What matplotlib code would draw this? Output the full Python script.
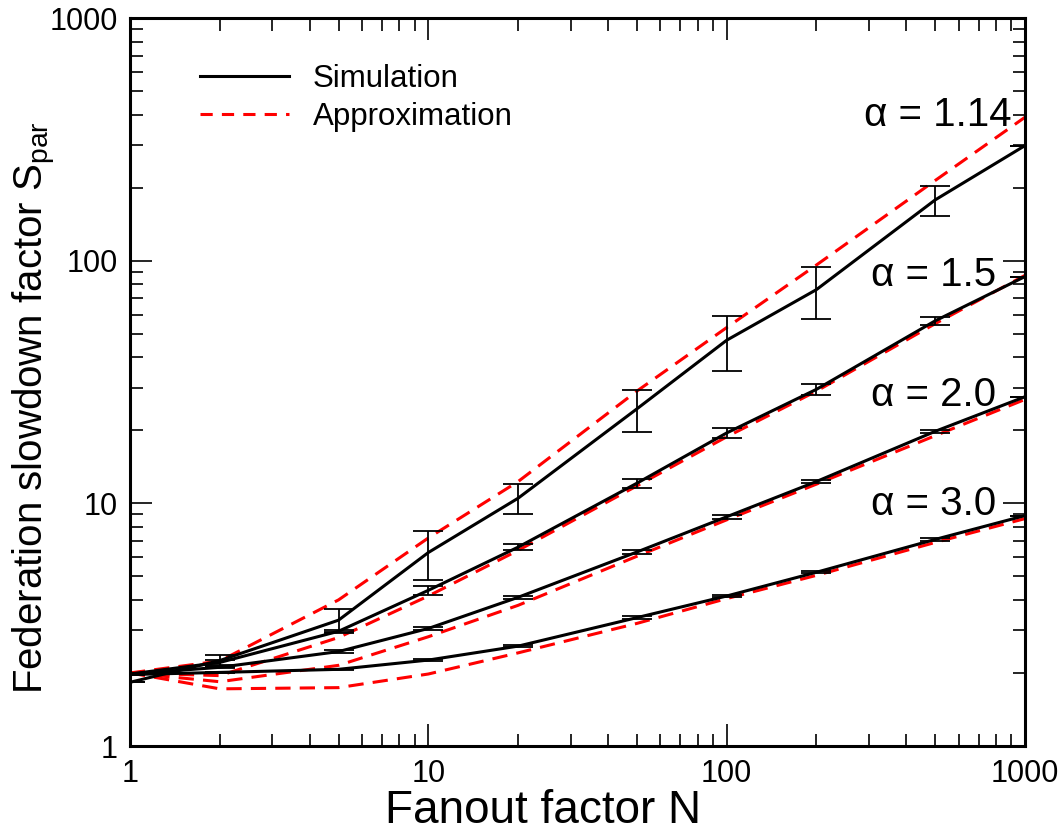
'''
Federation slowdown factor vs fanout factor, simulation vs approximation
'''
import matplotlib
matplotlib.use('Agg')
import matplotlib.pyplot as plt
from matplotlib.lines import Line2D
from matplotlib.ticker import LogLocator, NullFormatter, FixedLocator, FixedFormatter

plt.rcParams['font.family'] = ['Liberation Sans', 'DejaVu Sans']
plt.rcParams['mathtext.fontset'] = 'custom'
plt.rcParams['mathtext.rm'] = 'Liberation Sans'

# Fanout factor N
N = [1, 2, 5, 10, 20, 50, 100, 200, 500, 1000]

# simulation (black) with error bars
sim_114 = [1.83, 2.25, 3.3, 6.27, 10.5, 24.5, 47, 76, 178, 298]
err_114 = [0, 0.13, 0.36, 1.43, 1.47, 4.8, 12, 18.5, 25.5, 0]
sim_15 = [1.98, 2.21, 2.97, 4.38, 6.6, 12.1, 19.5, 29.5, 56.5, 86]
err_15 = [0, 0.05, 0.04, 0.2, 0.2, 0.55, 1.0, 1.5, 2.3, 0]
sim_20 = [1.98, 2.11, 2.45, 3.05, 4.1, 6.3, 8.8, 12.3, 19.8, 27.5]
err_20 = [0, 0.02, 0.03, 0.04, 0.06, 0.1, 0.15, 0.2, 0.3, 0]
sim_30 = [1.97, 2.01, 2.07, 2.26, 2.58, 3.38, 4.15, 5.2, 7.1, 8.9]
err_30 = [0, 0.01, 0.01, 0.02, 0.03, 0.04, 0.05, 0.06, 0.08, 0]

# approximation (red dashed)
apx_114 = [2.0, 2.24, 4.0, 7.2, 12.3, 29, 53, 96, 214, 390]
apx_15 = [2.0, 1.95, 2.8, 4.15, 6.4, 11.8, 18.8, 29, 55, 87]
apx_20 = [2.0, 1.84, 2.15, 2.82, 3.8, 6.05, 8.55, 12.0, 19.0, 26.8]
apx_30 = [2.0, 1.72, 1.74, 1.98, 2.42, 3.2, 4.05, 5.05, 6.9, 8.65]

alpha_labels = ['α = 1.14', 'α = 1.5', 'α = 2.0', 'α = 3.0']
label_pos = [(900, 400), (800, 87), (800, 28), (800, 9.9)]

sims = [(sim_114, err_114), (sim_15, err_15), (sim_20, err_20), (sim_30, err_30)]
apxs = [apx_114, apx_15, apx_20, apx_30]

fig = plt.figure(figsize=(10.64, 8.31), dpi=100)
ax = fig.add_axes([130/1064, 85/831, 895/1064, 728/831])

for s, e in sims:
    ax.errorbar(N, s, yerr=e, color='black', lw=2.2, elinewidth=1.3, capsize=11,
                capthick=1.3, zorder=3)
for a in apxs:
    ax.plot(N, a, color='red', lw=2.2, dashes=(5, 3), zorder=2)

for txt, (x, y) in zip(alpha_labels, label_pos):
    ax.text(x, y, txt, fontsize=29, ha='right', va='center')

ax.set_xscale('log')
ax.set_yscale('log')
ax.set_xlim(1, 1000)
ax.set_ylim(1, 1000)

for axis in (ax.xaxis, ax.yaxis):
    axis.set_major_locator(FixedLocator([1, 10, 100, 1000]))
    axis.set_major_formatter(FixedFormatter(['1', '10', '100', '1000']))
    axis.set_minor_locator(LogLocator(base=10, subs=range(2, 10)))
    axis.set_minor_formatter(NullFormatter())

ax.tick_params(which='both', direction='in', top=True, right=True, labelsize=22)
ax.tick_params(which='major', length=16, width=1.2, pad=9)
ax.tick_params(which='minor', length=9, width=1.2)
for sp in ax.spines.values():
    sp.set_linewidth(2.2)

ax.set_xlabel('Fanout factor N', fontsize=33)
ax.xaxis.set_label_coords(0.4615, -0.059)
ax.set_ylabel(r'Federation slowdown factor S$_\mathregular{par}$', fontsize=29)
ax.yaxis.set_label_coords(-0.08, 0.465)

handles = [Line2D([], [], color='black', lw=2.2),
           Line2D([], [], color='red', lw=2.2, dashes=(4, 3))]
ax.legend(handles, ['Simulation', 'Approximation'], loc='upper left',
          bbox_to_anchor=(0.078, 0.937), borderaxespad=0, borderpad=0,
          frameon=False, fontsize=22.5, handlelength=2.84, handletextpad=0.77,
          labelspacing=0.25)

fig.savefig('out.png', dpi=100)
